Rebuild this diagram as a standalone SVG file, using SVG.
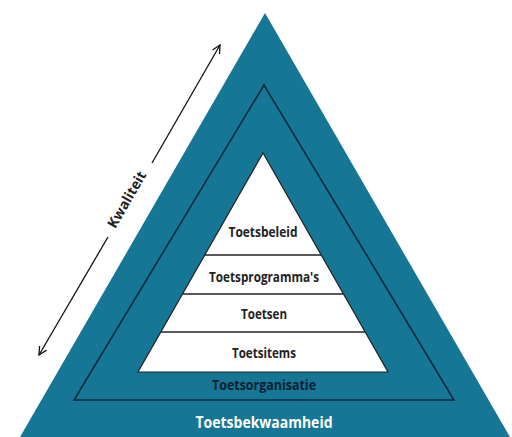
<svg xmlns="http://www.w3.org/2000/svg" width="512" height="437" viewBox="0 0 512 437">
<defs>
<marker id="arr" viewBox="0 0 10 10" refX="9" refY="5" markerWidth="10" markerHeight="10" markerUnits="userSpaceOnUse" orient="auto">
<path d="M1,1 L9,5 L1,9" fill="none" stroke="#111" stroke-width="1.3"/>
</marker>
<style>
.lbl{font-family:"Open Sans","Noto Sans","DejaVu Sans",sans-serif;font-weight:700;text-anchor:middle}
.blk{fill:#222;font-size:14px}
.sep{stroke:#222;stroke-width:1.5}
</style>
</defs>
<rect width="512" height="437" fill="#ffffff"/>
<g id="toetsbekwaamheid">
<polygon points="265,13 16,444 514,444" fill="#157695"/>
<text class="lbl" x="264" y="428" font-size="16" fill="#ffffff" textLength="137" lengthAdjust="spacingAndGlyphs">Toetsbekwaamheid</text>
</g>
<g id="toetsorganisatie">
<polygon points="264,85 74,400 454,400" fill="#157695" stroke="#0c2b3e" stroke-width="1.6"/>
<text class="lbl" x="264" y="389.5" font-size="14" fill="#0b1f33" textLength="104" lengthAdjust="spacingAndGlyphs">Toetsorganisatie</text>
</g>
<g id="piramide">
<polygon points="263,153 138,372 388,372" fill="#ffffff" stroke="#222" stroke-width="1.2"/>
<line class="sep" x1="205" y1="255" x2="321" y2="255"/>
<line class="sep" x1="183" y1="294" x2="343" y2="294"/>
<line class="sep" x1="161" y1="332" x2="365" y2="332"/>
</g>
<g id="toetsbeleid"><text class="lbl blk" x="263" y="237" textLength="69" lengthAdjust="spacingAndGlyphs">Toetsbeleid</text></g>
<g id="toetsprogrammas"><text class="lbl blk" x="264" y="281.5" textLength="110" lengthAdjust="spacingAndGlyphs">Toetsprogramma's</text></g>
<g id="toetsen"><text class="lbl blk" x="264" y="319" textLength="46" lengthAdjust="spacingAndGlyphs">Toetsen</text></g>
<g id="toetsitems"><text class="lbl blk" x="264" y="358" textLength="64" lengthAdjust="spacingAndGlyphs">Toetsitems</text></g>
<g id="connectors">
<line x1="152" y1="163" x2="220" y2="45" stroke="#111" stroke-width="1.3" marker-end="url(#arr)"/>
<line x1="108" y1="237" x2="39" y2="355" stroke="#111" stroke-width="1.3" marker-end="url(#arr)"/>
</g>
<g id="kwaliteit"><text class="lbl blk" x="131" y="202" transform="rotate(-60 131 202)" textLength="63" lengthAdjust="spacingAndGlyphs">Kwaliteit</text></g>
</svg>
